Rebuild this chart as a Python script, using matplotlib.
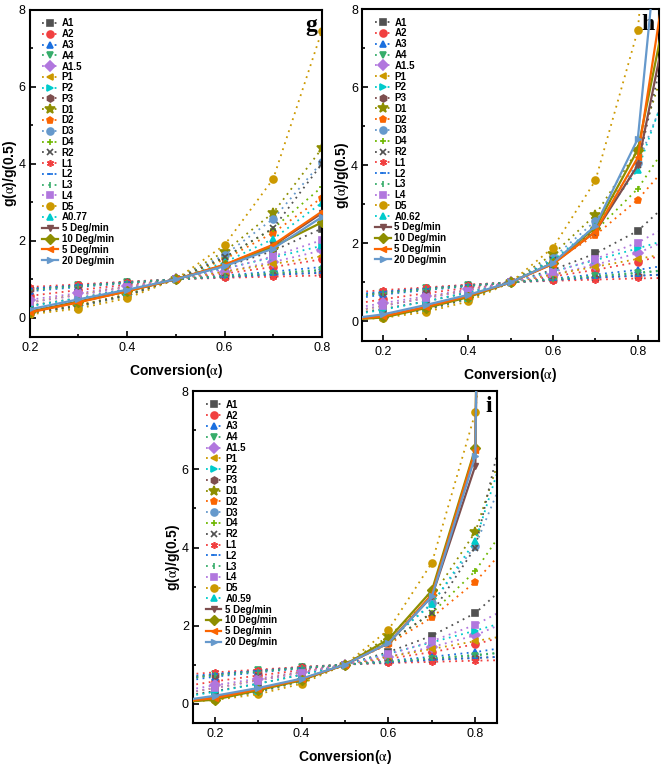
import matplotlib.pyplot as plt

plt.rcParams['font.family'] = ['Liberation Sans', 'DejaVu Sans']
plt.rcParams['mathtext.fontset'] = 'stix'

# conversion points of the master plots
alpha_pts = [0.1, 0.2, 0.3, 0.4, 0.5, 0.6, 0.7, 0.8, 0.9]

# theoretical g(a)/g(0.5) curves, same in all panels
A1 = [0.15, 0.32, 0.51, 0.74, 1.00, 1.32, 1.74, 2.32, 3.32]
A2 = [0.39, 0.57, 0.72, 0.86, 1.00, 1.15, 1.32, 1.52, 1.82]
A3 = [0.53, 0.69, 0.80, 0.90, 1.00, 1.10, 1.20, 1.32, 1.49]
A4 = [0.62, 0.75, 0.85, 0.93, 1.00, 1.07, 1.15, 1.23, 1.35]
A15 = [0.28, 0.47, 0.64, 0.82, 1.00, 1.20, 1.45, 1.75, 2.23]
P1 = [0.20, 0.40, 0.60, 0.80, 1.00, 1.20, 1.40, 1.60, 1.80]
P2 = [0.12, 0.30, 0.51, 0.74, 1.00, 1.28, 1.57, 1.87, 2.19]
P3 = [0.58, 0.74, 0.84, 0.93, 1.00, 1.06, 1.12, 1.17, 1.22]
D1 = [0.03, 0.12, 0.29, 0.57, 1.00, 1.72, 2.73, 4.40, 7.80]
D2 = [0.03, 0.14, 0.33, 0.61, 1.00, 1.52, 2.21, 3.12, 4.37]
D3 = [0.03, 0.12, 0.30, 0.58, 1.00, 1.63, 2.57, 4.05, 6.75]
D4 = [0.03, 0.13, 0.32, 0.60, 1.00, 1.56, 2.32, 3.40, 5.03]
R2 = [0.03, 0.13, 0.31, 0.59, 1.00, 1.57, 2.33, 4.00, 8.80]
L1 = [0.72, 0.80, 0.87, 0.94, 1.00, 1.04, 1.07, 1.10, 1.12]
L2 = [0.66, 0.76, 0.84, 0.92, 1.00, 1.06, 1.12, 1.17, 1.22]
L3 = [0.60, 0.72, 0.82, 0.91, 1.00, 1.08, 1.16, 1.25, 1.35]
L4 = [0.22, 0.40, 0.59, 0.79, 1.00, 1.26, 1.60, 2.02, 2.60]
D5 = [0.02, 0.09, 0.24, 0.51, 1.00, 1.89, 3.61, 7.46, 19.7]

# fitted Avrami order, one per panel
An_g = [0.09, 0.23, 0.42, 0.67, 1.00, 1.44, 2.05, 2.99, 4.76]
An_h = [0.05, 0.16, 0.34, 0.61, 1.00, 1.57, 2.44, 3.89, 6.94]
An_i = [0.04, 0.15, 0.33, 0.60, 1.00, 1.61, 2.55, 4.17, 7.65]

# experimental curves (5, 10, 5, 20 Deg/min)
exp_g = [
    [0.03, 0.16, 0.42, 0.70, 1.00, 1.37, 1.88, 2.72, 4.20],
    [0.03, 0.15, 0.41, 0.69, 1.00, 1.36, 1.85, 2.48, 3.80],
    [0.03, 0.14, 0.40, 0.69, 1.00, 1.38, 1.90, 2.76, 4.20],
    [0.05, 0.22, 0.48, 0.73, 1.00, 1.34, 1.80, 2.62, 4.00],
]
exp_h = [
    [0.03, 0.12, 0.36, 0.64, 1.00, 1.48, 2.30, 4.00, 9.4],
    [0.03, 0.10, 0.34, 0.62, 1.00, 1.50, 2.40, 4.40, 9.8],
    [0.03, 0.13, 0.37, 0.65, 1.00, 1.47, 2.30, 4.20, 11.2],
    [0.04, 0.18, 0.42, 0.68, 1.00, 1.50, 2.45, 4.68, 15.7],
]
exp_i = [
    [0.03, 0.16, 0.38, 0.62, 1.00, 1.55, 2.75, 6.10, 100.0],
    [0.02, 0.10, 0.34, 0.60, 1.00, 1.65, 2.90, 6.55, 100.0],
    [0.03, 0.14, 0.37, 0.62, 1.00, 1.55, 2.80, 6.50, 100.0],
    [0.04, 0.20, 0.40, 0.64, 1.00, 1.55, 2.75, 6.35, 100.0],
]
exp_labels = ['5 Deg/min', '10 Deg/min', '5 Deg/min', '20 Deg/min']

models = [
    ('A1', A1, '#515151', 's'),
    ('A2', A2, '#F14040', 'o'),
    ('A3', A3, '#1A6FDF', '^'),
    ('A4', A4, '#37AD6B', 'v'),
    ('A1.5', A15, '#B177DE', 'D'),
    ('P1', P1, '#CC9900', '<'),
    ('P2', P2, '#00CBCC', '>'),
    ('P3', P3, '#7D4E4E', 'h'),
    ('D1', D1, '#8E8E00', '*'),
    ('D2', D2, '#FB6501', 'p'),
    ('D3', D3, '#6699CC', 'o'),
    ('D4', D4, '#6FB802', '+'),
    ('R2', R2, '#515151', 'x'),
    ('L1', L1, '#F14040', (6, 2, 0)),
    ('L2', L2, '#1A6FDF', '_'),
    ('L3', L3, '#37AD6B', '|'),
    ('L4', L4, '#B177DE', 's'),
    ('D5', D5, '#CC9900', 'o'),
]
exp_styles = [('#7D4E4E', 'v'), ('#8E8E00', 'D'), ('#FB6501', '<'), ('#6699CC', '>')]


def draw_panel(ax, an_label, an_vals, exp_sets, xlim, letter):
    rows = models + [(an_label, an_vals, '#00CBCC', '^')]
    for name, vals, color, mk in rows:
        ms = 7 if mk == '*' else 5
        ax.plot(alpha_pts, vals, ls=(0, (1, 2.5)), lw=1.3, color=color,
                marker=mk, ms=ms, mew=1.2, label=name)
    for (color, mk), vals, lab in zip(exp_styles, exp_sets, exp_labels):
        ax.plot(alpha_pts, vals, '-', lw=1.6, color=color, marker=mk,
                ms=5, label=lab, zorder=5)

    ax.set_xlim(*xlim)
    ax.set_ylim(-0.5, 8)
    ax.set_xticks([0.2, 0.4, 0.6, 0.8])
    ax.set_yticks([0, 2, 4, 6, 8])
    ax.set_yticks([1, 3, 5, 7], minor=True)
    ax.set_xticks([0.3, 0.5, 0.7], minor=True)
    ax.tick_params(which='both', direction='in', labelsize=9, width=1.2)
    ax.tick_params(which='major', length=4)
    ax.tick_params(which='minor', length=2.5)
    ax.tick_params(axis='y', pad=3)
    for sp in ax.spines.values():
        sp.set_linewidth(1.5)
    ax.set_xlabel(r'Conversion($\mathrm{\alpha}$)', fontsize=10,
                  fontweight='bold', labelpad=6)
    ax.set_ylabel(r'g($\mathrm{\alpha}$)/g(0.5)', fontsize=10,
                  fontweight='bold', labelpad=0)
    ax.text(0.985, 0.985, letter, transform=ax.transAxes, ha='right',
            va='top', fontsize=17, fontweight='bold',
            family='Liberation Serif')
    ax.legend(loc='upper left', bbox_to_anchor=(0.02, 0.995), frameon=False,
              prop={'size': 7, 'weight': 'bold'}, handlelength=1.6,
              handletextpad=0.4, labelspacing=0.08, borderpad=0.2)


def main() -> None:
    fig = plt.figure(figsize=(6.61, 7.66), dpi=100)
    ax_g = fig.add_axes([0.045, 0.560, 0.442, 0.427])
    ax_h = fig.add_axes([0.548, 0.555, 0.449, 0.433])
    ax_i = fig.add_axes([0.292, 0.056, 0.460, 0.433])

    draw_panel(ax_g, 'A0.77', An_g, exp_g, (0.2, 0.8), 'g')
    draw_panel(ax_h, 'A0.62', An_h, exp_h, (0.15, 0.85), 'h')
    draw_panel(ax_i, 'A0.59', An_i, exp_i, (0.15, 0.85), 'i')

    fig.savefig('out.png', dpi=100)


if __name__ == '__main__':
    main()
